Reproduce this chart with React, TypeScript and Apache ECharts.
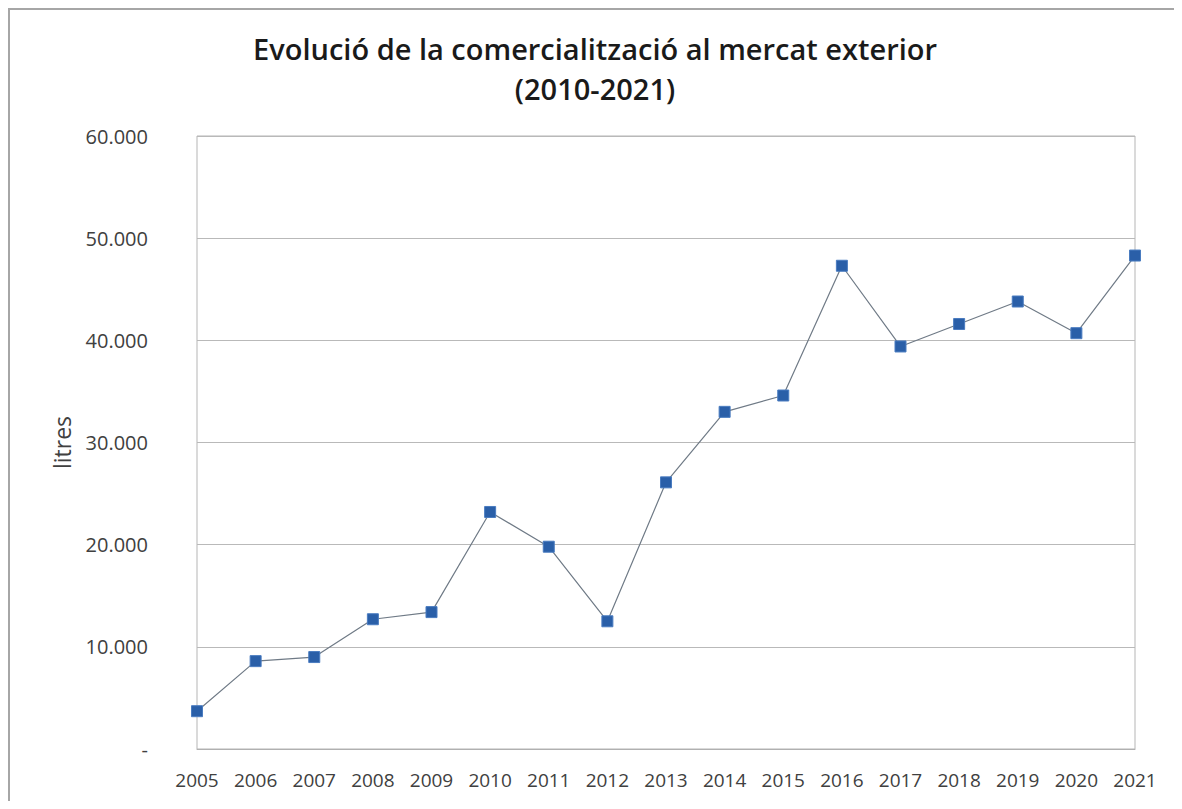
import React, { useEffect, useRef } from "react";
import * as echarts from "echarts";

const years = ["2005","2006","2007","2008","2009","2010","2011","2012","2013","2014","2015","2016","2017","2018","2019","2020","2021"];
const litres = [3700, 8600, 9000, 12700, 13400, 23200, 19800, 12500, 26100, 33000, 34600, 47300, 39400, 41600, 43800, 40700, 48300];
const titleText = "Evolució de la comercialització al mercat exterior\n(2010-2021)";
const yAxisName = "litres";

function fmt(v: number): string {
  if (v === 0) return "-";
  return String(Math.round(v)).replace(/\B(?=(\d{3})+(?!\d))/g, ".");
}

export default function App() {
  const ref = useRef<HTMLDivElement>(null);
  useEffect(() => {
    if (!ref.current) return;
    const chart = echarts.init(ref.current, null, { renderer: "svg" });
    chart.setOption({
      animation: false,
      backgroundColor: "#ffffff",
      title: {
        text: titleText,
        left: "center",
        top: 15,
        textStyle: {
          fontFamily: "Open Sans",
          fontWeight: 600,
          fontSize: 29,
          lineHeight: 40,
          color: "#1a1a1a",
        },
      },
      graphic: [
        { type: "line", shape: { x1: 0, y1: 1, x2: 1180, y2: 1 }, style: { stroke: "#a6a6a6", lineWidth: 2 } },
        { type: "line", shape: { x1: 1, y1: 0, x2: 1, y2: 793 }, style: { stroke: "#a6a6a6", lineWidth: 2 } },
      ],
      grid: {
        left: 189,
        right: 47,
        top: 128,
        height: 613,
        show: true,
        borderColor: "#b5b5b5",
        borderWidth: 1,
        backgroundColor: "transparent",
      },
      xAxis: {
        type: "category",
        data: years,
        boundaryGap: false,
        axisLine: { show: true, lineStyle: { color: "#b0b0b0", width: 1 } },
        axisTick: { show: false },
        axisLabel: { margin: 21, fontFamily: "Open Sans", fontSize: 19, color: "#404040" },
      },
      yAxis: {
        type: "value",
        min: 0,
        max: 60000,
        interval: 10000,
        name: yAxisName,
        nameLocation: "middle",
        nameGap: 124,
        nameRotate: 90,
        nameTextStyle: { fontFamily: "Open Sans", fontSize: 23, color: "#404040" },
        axisLine: { show: false },
        axisTick: { show: false },
        splitLine: { lineStyle: { color: "#b9b9b9", width: 1 } },
        axisLabel: {
          margin: 49,
          fontFamily: "Open Sans",
          fontSize: 20,
          color: "#404040",
          formatter: (v: number) => fmt(v),
        },
      },
      series: [
        {
          type: "line",
          data: litres,
          symbol: "rect",
          symbolSize: 11,
          lineStyle: { color: "#6f7a86", width: 1.2 },
          itemStyle: { color: "#2a5fa8", borderColor: "#4a7cc0", borderWidth: 1 },
        },
      ],
    });
    return () => chart.dispose();
  }, []);
  return <div ref={ref} style={{ width: 1174, height: 793 }} />;
}
